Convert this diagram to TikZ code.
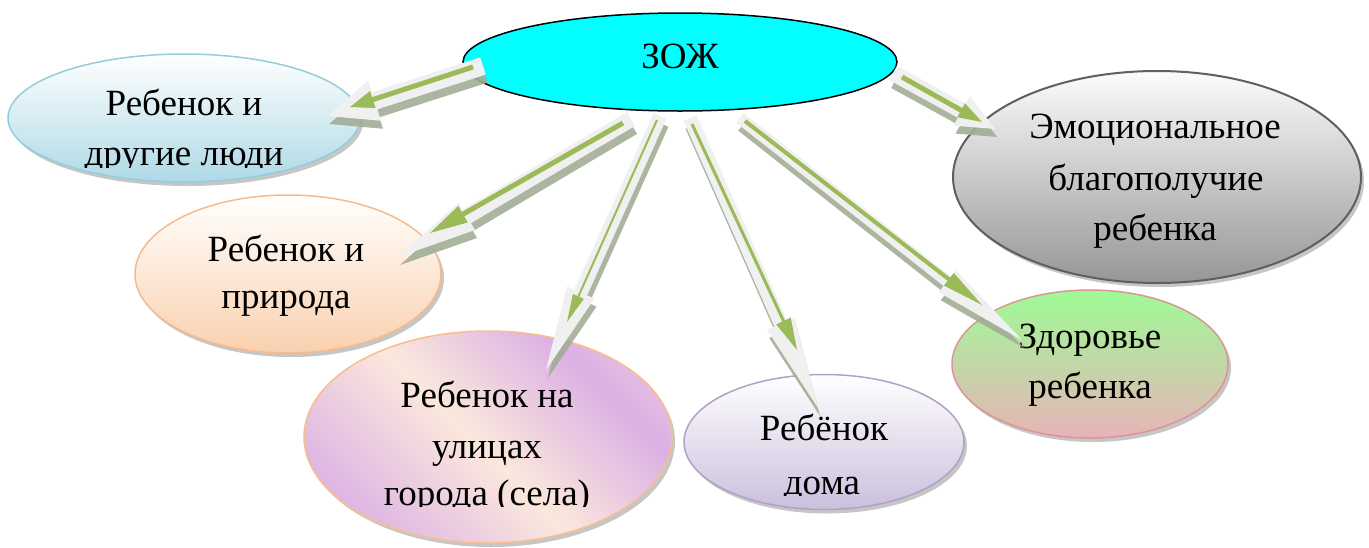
\documentclass[tikz,border=0pt]{standalone}
\usepackage{fontspec}
\setmainfont{Liberation Serif}
\usetikzlibrary{calc,shapes.geometric,shadows}

\definecolor{zojc}{RGB}{0,255,255}
\definecolor{arrbodyc}{HTML}{F0F0F0}
\definecolor{arrshadc}{HTML}{A2AD95}
\definecolor{greenc}{HTML}{9BBB59}
\definecolor{lavc}{HTML}{DBB0E4}
\definecolor{pchc}{HTML}{FBE8DC}
\definecolor{pnkc}{HTML}{F2D4E0}
\definecolor{bd2}{HTML}{93CDDD}
\definecolor{bt2}{RGB}{174,217,230}
\definecolor{bd3}{RGB}{247,186,140}
\definecolor{bt3}{RGB}{250,208,174}
\definecolor{bd4}{RGB}{248,190,142}
\definecolor{bd5}{RGB}{177,160,199}
\definecolor{bt5}{RGB}{203,191,220}
\definecolor{bd6}{RGB}{217,150,148}
\definecolor{tp6}{RGB}{158,251,150}
\definecolor{bt6}{RGB}{232,179,184}
\definecolor{bd7}{RGB}{95,95,95}
\definecolor{tp7}{RGB}{252,252,252}
\definecolor{bt7}{RGB}{150,150,150}

\pgfdeclarehorizontalshading{streetsh}{100bp}{color(0bp)=(lavc); color(22bp)=(lavc); color(48bp)=(pchc); color(70bp)=(lavc); color(88bp)=(pnkc); color(100bp)=(pnkc)}

% coordinates of a block arrow: #1 prefix, #2 start, #3 tip, #4 half width, #5 half head width, #6 head length
\newcommand\arrowpts[6]{%
  \path ($(#3)!#6!(#2)$) coordinate (#1b);
  \path ($(#2)!#4!90:(#3)$) coordinate (#1p1)
        ($(#1b)!#4!-90:(#2)$) coordinate (#1p2)
        ($(#1b)!#5!-90:(#2)$) coordinate (#1p3)
        ($(#1b)!#5!90:(#2)$) coordinate (#1p4)
        ($(#1b)!#4!90:(#2)$) coordinate (#1p5)
        ($(#2)!#4!-90:(#3)$) coordinate (#1p6);}
\newcommand\bodyarrow[6]{%
  \arrowpts{#1}{#2}{#3}{#4}{#5}{#6}%
  \fill[arrshadow] ([shift={(2,8)}]#1p1) -- ([shift={(2,8)}]#1p2) -- ([shift={(2,8)}]#1p3) -- ([shift={(2,8)}]#3) -- ([shift={(2,8)}]#1p4) -- ([shift={(2,8)}]#1p5) -- ([shift={(2,8)}]#1p6) -- cycle;
  \fill[arrbody] (#1p1) -- (#1p2) -- (#1p3) -- (#3) -- (#1p4) -- (#1p5) -- (#1p6) -- cycle;}
\newcommand\greenarrow[6]{%
  \arrowpts{#1}{#2}{#3}{#4}{#5}{#6}%
  \fill[arrgreen] (#1p1) -- (#1p2) -- (#1p3) -- (#3) -- (#1p4) -- (#1p5) -- (#1p6) -- cycle;}

\begin{document}
\begin{tikzpicture}[x=1pt,y=-1pt,
  ell/.style={ellipse, inner sep=0pt, line width=1.5pt,
    drop shadow={shadow xshift=3pt, shadow yshift=-4pt, fill=black!50, opacity=.45}},
  lbl/.style={anchor=base, inner sep=0pt, font=\fontsize{37}{44}\selectfont},
  arrbody/.style={fill=arrbodyc},
  arrshadow/.style={fill=arrshadc, fill opacity=.9},
  arrgreen/.style={fill=greenc}]
\useasboundingbox (0,0) rectangle (1369,547);

% ellipses
\node[ellipse, inner sep=0pt, draw=black, line width=1.5pt, fill=zojc,
  minimum width=434pt, minimum height=98pt] (zoj) at (680,62) {};
\node[ell, draw=bd2, top color=white, bottom color=bt2,
  minimum width=352pt, minimum height=128pt] (n2) at (184,118) {};
\node[ell, draw=bd3, top color=white, bottom color=bt3,
  minimum width=306pt, minimum height=158pt] (n3) at (288,274) {};
\node[ell, draw=bd4, shading=streetsh, shading angle=45,
  minimum width=368pt, minimum height=212pt] (n4) at (488,437) {};
\node[ell, draw=bd5, top color=white, bottom color=bt5,
  minimum width=280pt, minimum height=135pt] (n5) at (824,442) {};
\node[ell, draw=bd6, top color=tp6, bottom color=bt6,
  minimum width=276pt, minimum height=148pt] (n6) at (1090,364) {};
\node[ell, draw=bd7, line width=2pt, top color=tp7, bottom color=bt7,
  minimum width=408pt, minimum height=212pt] (n7) at (1157,177) {};

% texts
\node[lbl] (t1) at (680,68) {ЗОЖ};
\node[lbl] (t2a) at (184,115) {Ребенок и};
\begin{scope}
  \clip (0,0) rectangle (1369,167);
  \node[lbl] (t2b) at (184,165) {другие люди};
\end{scope}
\node[lbl] (t3a) at (286,261) {Ребенок и};
\node[lbl] (t3b) at (286,308) {природа};
\node[lbl] (t4a) at (487,407) {Ребенок на};
\node[lbl] (t4b) at (487,458) {улицах};
\begin{scope}
  \clip (0,0) rectangle (1369,506);
  \node[lbl] (t4c) at (487,505) {города (села)};
\end{scope}
\node[lbl] (t5a) at (824,440) {Ребёнок};
\begin{scope}
  \clip (0,0) rectangle (1369,495);
  \node[lbl] (t5b) at (822,494) {дома};
\end{scope}
\node[lbl] (t6a) at (1090,348) {Здоровье};
\node[lbl] (t6b) at (1090,398) {ребенка};
\node[lbl] (t7a) at (1155,138) {Эмоциональное};
\node[lbl] (t7b) at (1156,190) {благополучие};
\node[lbl] (t7c) at (1155,240) {ребенка};

% arrow ends
\coordinate (a1s) at (483,66);  \coordinate (a1e) at (327,116);
\coordinate (a2s) at (631,119); \coordinate (a2e) at (398,257);
\coordinate (a3s) at (660,116); \coordinate (a3e) at (546,370);
\coordinate (a4s) at (690,118); \coordinate (a4e) at (818,408);
\coordinate (a5s) at (740,118); \coordinate (a5e) at (1022,340);
\coordinate (a6s) at (893,73);  \coordinate (a6e) at (995,129);

\coordinate (g1s) at (473,67);  \coordinate (g1e) at (350,107);
\coordinate (g2s) at (623,123); \coordinate (g2e) at (430,233);
\coordinate (g3s) at (657,120); \coordinate (g3e) at (567,322);
\coordinate (g4s) at (692,124); \coordinate (g4e) at (797,350);
\coordinate (g5s) at (745,121); \coordinate (g5e) at (982,305);
\coordinate (g6s) at (902,77);  \coordinate (g6e) at (982,122);

% arrows
\bodyarrow{A1}{a1s}{a1e}{9pt}{21pt}{50pt}
\greenarrow{G1}{g1s}{g1e}{2.5pt}{9pt}{24pt}
\bodyarrow{A2}{a2s}{a2e}{8pt}{16pt}{80pt}
\greenarrow{G2}{g2s}{g2e}{2.5pt}{9.5pt}{38pt}
\bodyarrow{A3}{a3s}{a3e}{7pt}{15pt}{85pt}
\greenarrow{G3}{g3s}{g3e}{1pt}{6pt}{28pt}
\bodyarrow{A4}{a4s}{a4e}{7pt}{15pt}{92pt}
\greenarrow{G4}{g4s}{g4e}{1.5pt}{8pt}{32pt}
\bodyarrow{A5}{a5s}{a5e}{6pt}{14pt}{95pt}
\greenarrow{G5}{g5s}{g5e}{2pt}{8pt}{42pt}
\bodyarrow{A6}{a6s}{a6e}{8pt}{17pt}{38pt}
\greenarrow{G6}{g6s}{g6e}{2.5pt}{8pt}{24pt}
\end{tikzpicture}
\end{document}
